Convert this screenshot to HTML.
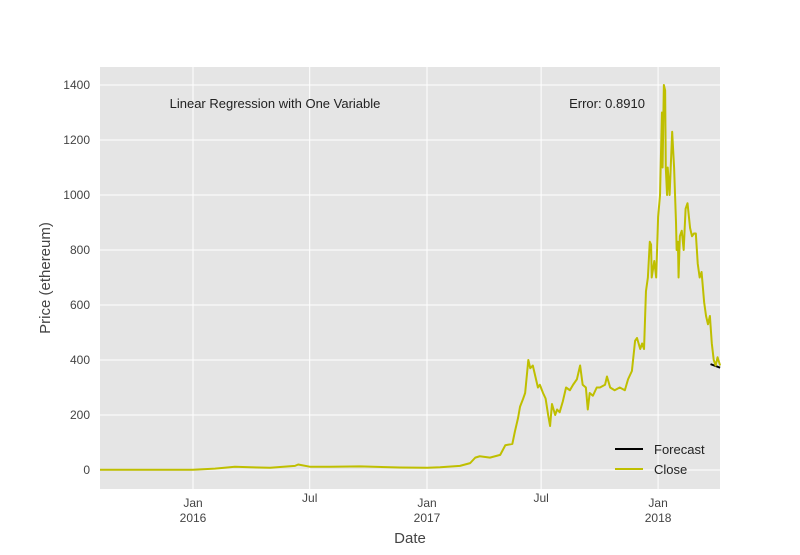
<!DOCTYPE html>
<html><head><meta charset="utf-8"><style>body{margin:0;background:#fff}svg{font-family:"Liberation Sans",Arial,sans-serif}</style></head>
<body>
<svg id="c" width="800" height="550">
<rect x="100" y="67" width="620" height="422" fill="#e5e5e5"/>
<g id="grid"></g>
<g id="ticks"></g>
<g id="series"></g>
<text x="275" y="108" font-size="13" text-anchor="middle" fill="#222">Linear Regression with One Variable</text>
<text x="607" y="108" font-size="13" text-anchor="middle" fill="#222">Error: 0.8910</text>
<text x="410" y="543" font-size="15" text-anchor="middle" fill="#444">Date</text>
<text transform="translate(50,278) rotate(-90)" font-size="15" text-anchor="middle" fill="#444">Price (ethereum)</text>
<g>
<line x1="615" y1="449" x2="643" y2="449" stroke="#000" stroke-width="2"/>
<text x="654" y="454" font-size="13" fill="#222">Forecast</text>
<line x1="615" y1="469" x2="643" y2="469" stroke="#bfbf00" stroke-width="2"/>
<text x="654" y="474" font-size="13" fill="#222">Close</text>
</g>
</svg>
<script>
const yTicks=[0,200,400,600,800,1000,1200,1400];
const xTickDays=[145.5,328,511.5,690,873];
const xTickLabels=["Jan\n2016","Jul","Jan\n2017","Jul","Jan\n2018"];
const closeDays=[0,145,180,211,235,266,305,310,328,360,407,469,512,532,563,579,587,594,610,626,634,645,649,654,657,662,665,670,673,677,682,685,688,693,697,701,704,707,712,715,719,724,729,735,740,746,751,755,760,763,766,771,777,782,790,793,798,805,813,821,826,832,837,840,845,848,851,854,857,860,862,863,867,870,873,876,879,880,882,884,885,887,888,891,895,898,901,902,904,905,907,910,913,916,919,923,926,929,932,935,938,941,945,948,951,954,957,960,963,966,970];
const closeVals=[1,1,5,12,10,8,15,20,12,12,13,9,8,10,15,25,45,50,45,55,90,95,140,190,230,260,280,400,370,380,330,300,310,280,260,200,160,240,200,220,210,250,300,290,310,330,380,310,300,220,280,270,300,300,310,340,300,290,300,290,330,360,470,480,440,460,440,650,700,830,820,700,760,700,920,1000,1300,1100,1400,1380,1100,1000,1100,1000,1230,1100,900,800,830,700,850,870,800,950,970,880,850,860,860,750,700,720,610,560,530,560,460,400,380,410,380];
const fcDays=[955,970];
const fcVals=[385,372];
const X=d=>100+d*0.6393, Y=v=>470-v*0.275;
const ns="http://www.w3.org/2000/svg";
const g=document.getElementById('grid'),t=document.getElementById('ticks'),s=document.getElementById('series');
function mk(tag,a,p){const e=document.createElementNS(ns,tag);for(const k in a)e.setAttribute(k,a[k]);p.appendChild(e);return e;}
yTicks.forEach(v=>{
 const l=mk('line',{x1:100,x2:720,y1:Y(v),y2:Y(v),stroke:'#fff','stroke-width':1},g);
 
 
 const tx=mk('text',{x:90,y:Y(v)+4,'font-size':12,'text-anchor':'end',fill:'#444'},t);
 tx.textContent=v;
 
 
});
xTickDays.forEach((d,i)=>{
 const l=mk('line',{x1:X(d),x2:X(d),y1:67,y2:489,stroke:'#fff','stroke-width':1},g);
 
 
 const parts=xTickLabels[i].split('\n');
 parts.forEach((p,j)=>{
  const tx=mk('text',{x:X(d),y:(parts.length>1?507:502)+j*15,'font-size':12,'text-anchor':'middle',fill:'#444'},t);
  tx.textContent=p;
  
  
 });
});
const fp=mk('polyline',{points:fcDays.map((d,i)=>X(d)+','+Y(fcVals[i])).join(' '),fill:'none',stroke:'#000','stroke-width':2},s);


const cp=mk('polyline',{points:closeDays.map((d,i)=>X(d)+','+Y(closeVals[i])).join(' '),fill:'none',stroke:'#bfbf00','stroke-width':2,'stroke-linejoin':'round'},s);


</script>
</body></html>
